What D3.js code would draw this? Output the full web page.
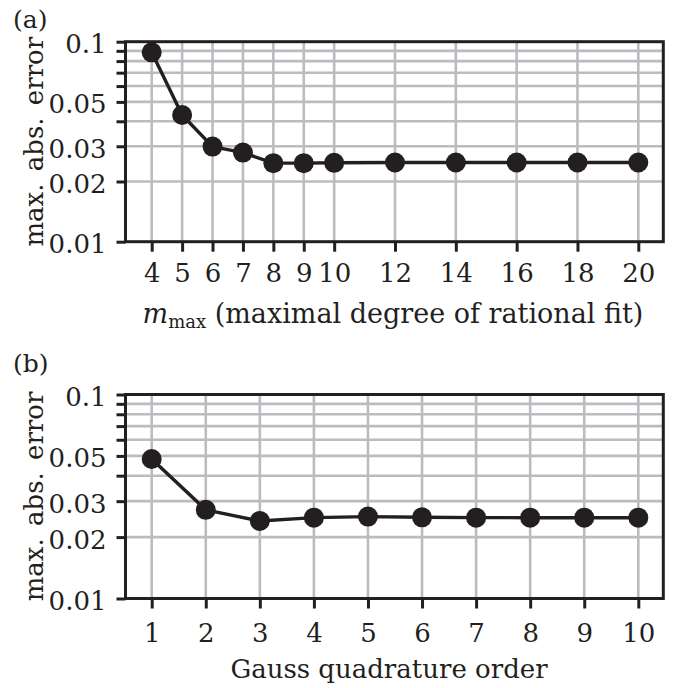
<!DOCTYPE html>
<html>
<head>
<meta charset="utf-8">
<script src="https://cdn.jsdelivr.net/npm/d3@7"></script>
<style>
  html, body { margin: 0; padding: 0; background: #fff; }
  svg { display: block; }
  text { font-family: "DejaVu Serif", serif; fill: #231f20; }
</style>
</head>
<body>
<svg id="chart" width="677" height="688"></svg>
<script>
// ---- data ----
const topX = [4, 5, 6, 7, 8, 9, 10, 12, 14, 16, 18, 20];
const topY = [0.0885, 0.0430, 0.0299, 0.0279, 0.0247, 0.0247, 0.0248, 0.0249, 0.0249, 0.0249, 0.0249, 0.0249];
const botX = [1, 2, 3, 4, 5, 6, 7, 8, 9, 10];
const botY = [0.0483, 0.0272, 0.0240, 0.0249, 0.0252, 0.0250, 0.0249, 0.0249, 0.0249, 0.0249];
const yTickValues = [0.01, 0.02, 0.03, 0.04, 0.05, 0.06, 0.07, 0.08, 0.09, 0.1];
const yLabeled = [0.01, 0.02, 0.03, 0.05, 0.1];
const yLabelText = "max. abs. error";

const INK = "#231f20";
const GRID = "#bcbcc0";
const svg = d3.select("#chart");

function panel(opts) {
  const { frame, xData, xDomain, xRange, xs, ys, tag, tagY, titleY, tickLabelY, title } = opts;
  const g = svg.append("g");
  const x = d3.scaleLinear().domain(xDomain).range(xRange);
  const y = d3.scaleLog().domain([0.01, 0.1]).range([frame.bottom, frame.top]);

  // grid
  g.append("g").selectAll("line").data(xData).join("line")
    .attr("x1", d => x(d)).attr("x2", d => x(d))
    .attr("y1", frame.top).attr("y2", frame.bottom)
    .attr("stroke", GRID).attr("stroke-width", 2.6);
  g.append("g").selectAll("line").data(yTickValues.filter(v => v > 0.01 && v < 0.1)).join("line")
    .attr("x1", frame.left).attr("x2", frame.right)
    .attr("y1", d => y(d)).attr("y2", d => y(d))
    .attr("stroke", GRID).attr("stroke-width", 2.6);

  // axes (ticks)
  const yAxis = d3.axisLeft(y).tickValues(yTickValues).tickSize(9).tickPadding(0)
    .tickFormat(d => yLabeled.some(v => Math.abs(v - d) < 1e-9) ? String(+d.toFixed(2)) : "");
  const ya = g.append("g").attr("transform", `translate(${frame.left},0)`).call(yAxis);
  ya.select(".domain").remove();
  ya.selectAll(".tick line").attr("stroke", INK).attr("stroke-width", 3);
  ya.selectAll(".tick text").attr("x", -19).attr("dy", "0.42em")
    .attr("font-size", 26).attr("font-family", "DejaVu Serif").attr("fill", INK);

  const xAxis = d3.axisBottom(x).tickValues(xData).tickSize(10).tickPadding(0).tickFormat(d => String(d));
  const xa = g.append("g").attr("transform", `translate(0,${frame.bottom})`).call(xAxis);
  xa.select(".domain").remove();
  xa.selectAll(".tick line").attr("stroke", INK).attr("stroke-width", 3);
  xa.selectAll(".tick text").attr("y", tickLabelY - frame.bottom).attr("dy", 0)
    .attr("font-size", 26).attr("font-family", "DejaVu Serif").attr("fill", INK);

  // frame
  g.append("rect").attr("x", frame.left).attr("y", frame.top)
    .attr("width", frame.right - frame.left).attr("height", frame.bottom - frame.top)
    .attr("fill", "none").attr("stroke", INK).attr("stroke-width", 3);

  // data
  const line = d3.line().x((d, i) => x(xs[i])).y(d => y(d));
  g.append("path").datum(ys).attr("d", line)
    .attr("fill", "none").attr("stroke", INK).attr("stroke-width", 3.4).attr("stroke-linejoin", "round");
  g.append("g").selectAll("circle").data(ys).join("circle")
    .attr("cx", (d, i) => x(xs[i])).attr("cy", d => y(d)).attr("r", 10)
    .attr("fill", INK);

  // y label
  g.append("text")
    .attr("transform", `translate(43,${(frame.top + frame.bottom) / 2}) rotate(-90)`)
    .attr("text-anchor", "middle").attr("font-size", 26).attr("word-spacing", 4)
    .text(yLabelText);

  // panel tag
  g.append("text").attr("x", 13).attr("y", tagY).attr("font-size", 25).text(tag);

  // x title
  title(g, titleY);
}

panel({
  frame: { left: 125.5, right: 663.3, top: 41.7, bottom: 241.7 },
  xData: topX, xDomain: [4, 20], xRange: [151.7, 638.3],
  xs: topX, ys: topY, tag: "(a)", tagY: 28, titleY: 323.3, tickLabelY: 282.3,
  title: (g, yy) => {
    const t = g.append("text").attr("x", 393).attr("y", yy).attr("text-anchor", "middle").attr("font-size", 27);
    t.append("tspan").attr("font-style", "italic").text("m");
    t.append("tspan").attr("font-size", 18).attr("dy", 5).text("max");
    t.append("tspan").attr("dy", -5).text("\u00a0(maximal degree of rational fit)");
  }
});

panel({
  frame: { left: 125.5, right: 663.3, top: 394.5, bottom: 598.5 },
  xData: botX, xDomain: [1, 10], xRange: [151.7, 638.3],
  xs: botX, ys: botY, tag: "(b)", tagY: 372, titleY: 678.3, tickLabelY: 641.7,
  title: (g, yy) => {
    g.append("text").attr("x", 389).attr("y", yy).attr("text-anchor", "middle").attr("font-size", 26)
      .text("Gauss quadrature order");
  }
});
</script>
</body>
</html>
